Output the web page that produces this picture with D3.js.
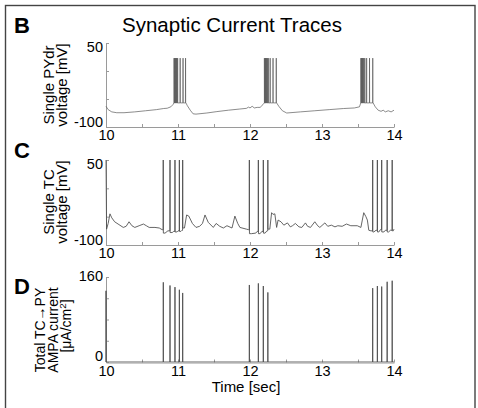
<!DOCTYPE html>
<html><head><meta charset="utf-8">
<script src="https://cdn.jsdelivr.net/npm/d3@7"></script>
<style>
body{margin:0;background:#fff;}
text{font-family:"Liberation Sans",Arial,sans-serif;}
</style></head>
<body><svg id="c" width="478" height="408"></svg>
<script>
// ---- Data ----
const xTicks = [10,10.5,11,11.5,12,12.5,13,13.5,14];
const voltTicks = [-100,-50,0,50];
const ampaTicks = [0,40,80,120,160];

// Panel B: single PYdr voltage (mV) baseline + spike times
const pyBaseT = [10.00,10.03,10.08,10.15,10.25,10.40,10.55,10.70,10.80,10.85,10.90,10.93,10.945,11.11,11.13,11.17,11.21,11.25,11.40,11.54,11.70,11.85,11.95,11.98,12.00,12.03,12.06,12.10,12.14,12.18,12.20,12.37,12.40,12.45,12.51,12.70,12.90,13.10,13.30,13.45,13.52,13.54,13.71,13.74,13.78,13.82,13.85,13.88,13.92,13.96,14.00];
const pyBaseV = [-63,-69,-73,-74.5,-74.5,-73,-71,-69,-67,-66.5,-64,-60,-57,-57,-62,-70,-76.5,-77,-75,-72.5,-70,-68,-66.7,-64.5,-66,-63,-66,-65,-65,-60,-57,-57,-63,-71,-75,-73,-71,-69,-67,-66,-64,-57,-57,-64,-70,-72,-70,-73,-71,-73,-70];
const pySpikeT = [10.945,10.953,10.961,10.969,10.977,10.985,10.995,11.03,11.07,11.105,
                  12.200,12.208,12.216,12.224,12.232,12.242,12.255,12.28,12.32,12.365,
                  13.540,13.548,13.556,13.564,13.572,13.582,13.595,13.62,13.66,13.705];
const pySpikePeak = 23;

// Panel C: single TC voltage (mV) baseline + spike times
const tcBaseT = [10.000,10.008,10.03,10.055,10.08,10.12,10.18,10.24,10.28,10.32,10.36,10.40,10.46,10.52,10.56,10.60,10.68,10.74,10.78,10.82,10.86,10.92,10.94,10.985,11.00,11.04,11.055,11.09,11.12,11.15,11.20,11.25,11.30,11.34,11.375,11.42,11.49,11.53,11.58,11.63,11.68,11.75,11.79,11.83,11.86,11.95,11.98,12.02,12.08,12.10,12.14,12.165,12.21,12.235,12.275,12.30,12.32,12.345,12.37,12.39,12.43,12.47,12.52,12.56,12.59,12.63,12.68,12.72,12.77,12.80,12.84,12.90,12.94,12.97,13.04,13.08,13.13,13.18,13.22,13.28,13.34,13.40,13.49,13.54,13.56,13.58,13.61,13.63,13.65,13.68,13.72,13.75,13.79,13.81,13.86,13.88,13.925,13.95,13.99,14.00];
const tcBaseV = [50,-72,-62,-45,-52,-59,-64,-69,-67,-59,-66,-69,-66,-63,-66,-69,-69,-70,-73,-79,-75,-78,-76,-77,-75,-76,-74,-70,-47,-49,-62,-69,-67,-62,-47,-60,-69,-62,-67,-70,-66,-70,-49,-62,-69,-72,-73,-80,-79,-76,-80,-76,-79,-75,-72,-43,-46,-45,-69,-56,-59,-65,-61,-68,-66,-62,-68,-69,-61,-67,-69,-59,-66,-69,-61,-67,-65,-68,-66,-67,-63,-66,-66,-69,-56,-43,-50,-56,-74,-75,-77,-74,-77,-73,-77,-74,-77,-74,-75,-72];
const tcSpikeT = [10.795,10.889,10.958,11.019,11.065,11.991,12.116,12.185,12.248,13.704,13.769,13.829,13.905,13.975];
const tcSpikePeak = 70;

// Panel D: total TC->PY AMPA current pulses
const ampaT = [10.000,10.796,10.889,10.958,11.019,11.065,11.991,12.116,12.185,12.248,13.704,13.769,13.829,13.905,13.975];
const ampaV = [134,150,144,141,136,130,145,148,143,131,139,143,142,151,153];

// ---- Drawing ----
const svg = d3.select("#c");
const x = d3.scaleLinear([10,14],[106,394]);
const axisCol = "#9a9a9a";

// frame
svg.append("rect").attr("x",5.5).attr("y",5.5).attr("width",469.5).attr("height",430)
  .attr("fill","none").attr("stroke","#444").attr("stroke-width",1.4);

function buildTrace(bT,bV,sT,peak){
  const pts = bT.map((t,i)=>[t,bV[i]]);
  sT.forEach(ts=>{
    let bi = d3.bisectRight(bT,ts);
    const before = bV[Math.max(0,bi-1)], after = bV[Math.min(bV.length-1,bi)];
    pts.push([ts-0.0015,before],[ts,peak],[ts+0.0015,after]);
  });
  pts.sort((a,b)=>a[0]-b[0]);
  return pts;
}

function panel(y, ticks, labelSet, id, top, bottom, topDy, botDy){
  const g = svg.append("g");
  g.append("clipPath").attr("id",id).append("rect")
    .attr("x",x(10)-1).attr("y",top).attr("width",x(14)-x(10)+2).attr("height",bottom-top);
  const xa = g.append("g").attr("transform",`translate(0,${bottom})`)
    .call(d3.axisBottom(x).tickValues(xTicks).tickSize(-3).tickSizeOuter(0).tickPadding(3)
      .tickFormat(d=>Number.isInteger(d)?d:""));
  const ya = g.append("g").attr("transform",`translate(${x(10)},0)`)
    .call(d3.axisLeft(y).tickValues(ticks).tickSize(-3).tickSizeOuter(0).tickPadding(3)
      .tickFormat(d=>labelSet.includes(d)?d:""));
  [xa,ya].forEach(a=>{
    a.selectAll("path,line").attr("stroke",axisCol);
    a.selectAll("text").attr("fill","#000").attr("font-size",14.5)
      .attr("font-family","'Liberation Sans',Arial,sans-serif");
  });
  ya.selectAll("text").attr("dy",d=> d===labelSet[1]? topDy : botDy);
  return g;
}

// Panel B
const yB = d3.scaleLinear([-100,50],[127,43]);
const gB = panel(yB, voltTicks, [-100,50], "clipB", 43, 127, 8.5, -0.5);
gB.append("path").attr("clip-path","url(#clipB)")
  .datum(buildTrace(pyBaseT,pyBaseV,pySpikeT,pySpikePeak))
  .attr("d",d3.line().x(d=>x(d[0])).y(d=>yB(d[1])))
  .attr("fill","none").attr("stroke","#5a5a5a").attr("stroke-width",0.7);

// Panel C
const yC = d3.scaleLinear([-100,50],[245,160]);
const gC = panel(yC, voltTicks, [-100,50], "clipC", 160, 245, 8, -0.5);
gC.append("path").attr("clip-path","url(#clipC)")
  .datum(buildTrace(tcBaseT,tcBaseV,tcSpikeT,tcSpikePeak))
  .attr("d",d3.line().x(d=>x(d[0])).y(d=>yC(d[1])))
  .attr("fill","none").attr("stroke","#4a4a4a").attr("stroke-width",0.85);

// Panel D
const yD = d3.scaleLinear([0,160],[362,277]);
const gD = panel(yD, ampaTicks, [0,160], "clipD", 277, 362.5, 3.5, -2);
const ampaPts = [];
ampaT.forEach((t,i)=>{ ampaPts.push([t-0.0012,0],[t,ampaV[i]],[t+0.0012,0]); });
gD.append("path").attr("clip-path","url(#clipD)")
  .datum([[10,0]].concat(ampaPts.filter(p=>p[0]>=10)).concat([[14,0]]))
  .attr("d",d3.line().x(d=>x(d[0])).y(d=>yD(d[1])))
  .attr("fill","none").attr("stroke","#4a4a4a").attr("stroke-width",0.85);

// Titles and labels
svg.append("text").attr("x",232).attr("y",32).attr("text-anchor","middle")
  .attr("font-size",20.5).text("Synaptic Current Traces");
[["B",33],["C",158],["D",294]].forEach(([t,yy])=>{
  svg.append("text").attr("x",14).attr("y",yy).attr("font-size",22).attr("font-weight","bold").text(t);
});
function ylab(lines, xs, cy, fs){
  lines.forEach((l,i)=>{
    const t = svg.append("text").attr("transform",`translate(${xs[i]},${cy[i]}) rotate(-90)`)
      .attr("text-anchor","middle").attr("font-size",fs);
    if (typeof l === "string") t.text(l);
    else { t.append("tspan").text(l[0]);
           t.append("tspan").attr("baseline-shift","super").attr("font-size",fs*0.7).text(l[1]);
           t.append("tspan").text(l[2]); }
  });
}
ylab(["Single PYdr","voltage [mV]"],[54,67],[85,85],15);
ylab(["Single TC","voltage [mV]"],[54,67],[202,202],15);
ylab(["Total TC\u2192PY","AMPA current",["[\u03bcA/cm","2","]"]],[45,58,71],[330,330,326],14);
svg.append("text").attr("x",246).attr("y",391.5).attr("text-anchor","middle")
  .attr("font-size",15).text("Time [sec]");
</script></body></html>
